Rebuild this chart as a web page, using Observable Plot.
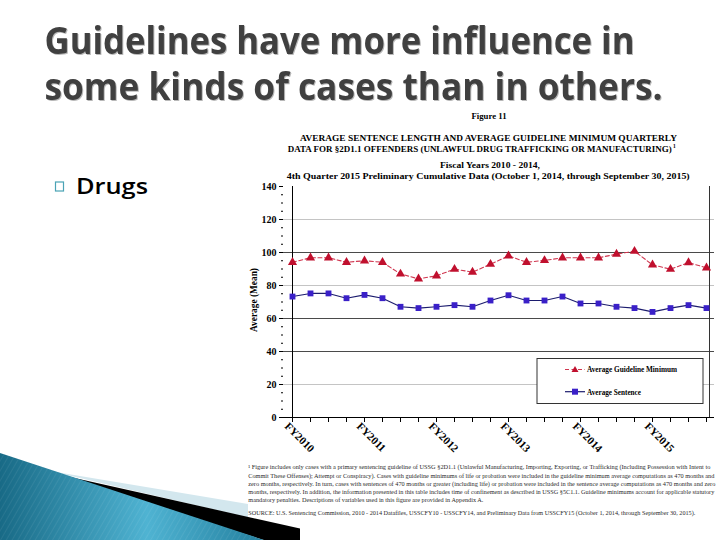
<!DOCTYPE html>
<html><head><meta charset="utf-8">
<script src="https://cdn.jsdelivr.net/npm/d3@7"></script>
<script src="https://cdn.jsdelivr.net/npm/@observablehq/plot@0.6"></script>
<style>
html,body{margin:0;padding:0;background:#fff;}
#page{position:relative;width:720px;height:540px;overflow:hidden;background:#fff;}
#chart{position:absolute;left:240px;top:175px;width:480px;height:285px;}
#overlay{position:absolute;left:0;top:0;}
.serifb{font-family:"Liberation Serif","Times New Roman",serif;font-weight:bold;fill:#000;}
.foot{font-family:"Liberation Serif","Times New Roman",serif;font-size:6px;fill:#2a2a2a;}
.ttl{font-family:"Open Sans","Noto Sans",sans-serif;font-weight:700;font-size:37px;fill:#404040;filter:drop-shadow(1.5px 1.5px 0.6px rgba(0,0,0,0.28));}
</style></head><body>
<div id="page">
<div id="chart"></div>
<svg id="overlay" width="720" height="540" xmlns="http://www.w3.org/2000/svg">
  <defs>
    <linearGradient id="teal" x1="0" y1="0" x2="1" y2="0">
      <stop offset="0" stop-color="#186a86"/>
      <stop offset="0.55" stop-color="#4fb3d2"/>
      <stop offset="1" stop-color="#237f9e"/>
    </linearGradient>
    <pattern id="stripes" width="5" height="5" patternUnits="userSpaceOnUse" patternTransform="rotate(30)">
      <line x1="0" y1="0" x2="0" y2="5" stroke="#ffffff" stroke-opacity="0.13" stroke-width="1"/>
    </pattern>
  </defs>
  <!-- slide title -->
  <g class="ttl">
    <text x="44.5" y="53.5" textLength="590" lengthAdjust="spacingAndGlyphs">Guidelines have more influence in</text>
    <text x="44.5" y="100" textLength="618" lengthAdjust="spacingAndGlyphs">some kinds of cases than in others.</text>
  </g>
  <!-- bullet -->
  <rect x="55.5" y="182" width="8" height="9" fill="none" stroke="#4aa3b5" stroke-width="1.2"/>
  <text x="76" y="193.5" textLength="72" lengthAdjust="spacingAndGlyphs" style="font-family:'Open Sans','Noto Sans',sans-serif;font-size:22px;font-weight:600;fill:#000">Drugs</text>
  <!-- figure headings -->
  <text class="serifb" x="471.5" y="119" font-size="9" textLength="35" lengthAdjust="spacingAndGlyphs">Figure 11</text>
  <text class="serifb" x="300" y="140.5" font-size="8.6" textLength="377" lengthAdjust="spacingAndGlyphs">AVERAGE SENTENCE LENGTH AND AVERAGE GUIDELINE MINIMUM QUARTERLY</text>
  <text class="serifb" x="287.7" y="152" font-size="8.6" textLength="384" lengthAdjust="spacingAndGlyphs">DATA FOR §2D1.1 OFFENDERS (UNLAWFUL DRUG TRAFFICKING OR MANUFACTURING)</text>
  <text class="serifb" x="673" y="148" font-size="5.5">1</text>
  <text class="serifb" x="440" y="168" font-size="8.6" textLength="100" lengthAdjust="spacingAndGlyphs">Fiscal Years 2010 - 2014,</text>
  <text class="serifb" x="286.7" y="178.5" font-size="8.6" textLength="403" lengthAdjust="spacingAndGlyphs">4th Quarter 2015 Preliminary Cumulative Data (October 1, 2014, through September 30, 2015)</text>
  <!-- y axis label -->
  <text class="serifb" transform="translate(257,300) rotate(-90)" text-anchor="middle" font-size="9.5" textLength="64" lengthAdjust="spacingAndGlyphs">Average (Mean)</text>
  <!-- legend -->
  <g id="legend">
    <rect x="537" y="358.5" width="166" height="45" fill="#fff" stroke="#333" stroke-width="1"/>
    <line x1="565" y1="369.5" x2="585" y2="369.5" stroke="#d0364f" stroke-width="1.2" stroke-dasharray="4,2.5"/>
    <path d="M575,366 L578.5,372 L571.5,372 Z" fill="#c0102e"/>
    <text class="serifb" x="587" y="372" font-size="7.5" textLength="90" lengthAdjust="spacingAndGlyphs">Average Guideline Minimum</text>
    <line x1="565" y1="391.7" x2="585" y2="391.7" stroke="#1c1c6e" stroke-width="1.2"/>
    <rect x="572" y="388.7" width="6" height="6" fill="#3a20c8"/>
    <text class="serifb" x="587" y="394.5" font-size="7.5" textLength="54" lengthAdjust="spacingAndGlyphs">Average Sentence</text>
  </g>
  <!-- footnotes -->
  <text class="foot" x="248.3" y="469" textLength="462" lengthAdjust="spacingAndGlyphs">¹ Figure includes only cases with a primary sentencing guideline of USSG §2D1.1 (Unlawful Manufacturing, Importing, Exporting, or Trafficking (Including Possession with Intent to</text>
  <text class="foot" x="248.3" y="477.5" textLength="466" lengthAdjust="spacingAndGlyphs">Commit These Offenses); Attempt or Conspiracy). Cases with guideline minimums of life or probation were included in the guideline minimum average computations as 470 months and</text>
  <text class="foot" x="248.3" y="486" textLength="467" lengthAdjust="spacingAndGlyphs">zero months, respectively. In turn, cases with sentences of 470 months or greater (including life) or probation were included in the sentence average computations as 470 months and zero</text>
  <text class="foot" x="248.3" y="494" textLength="466" lengthAdjust="spacingAndGlyphs">months, respectively. In addition, the information presented in this table includes time of confinement as described in USSG §5C1.1. Guideline minimums account for applicable statutory</text>
  <text class="foot" x="248.3" y="502" textLength="235" lengthAdjust="spacingAndGlyphs">mandatory penalties. Descriptions of variables used in this figure are provided in Appendix A.</text>
  <text class="foot" x="248.3" y="515" textLength="447" lengthAdjust="spacingAndGlyphs">SOURCE: U.S. Sentencing Commission, 2010 - 2014 Datafiles, USSCFY10 - USSCFY14, and Preliminary Data from USSCFY15 (October 1, 2014, through September 30, 2015).</text>
  <!-- decorative swoosh -->
  <polygon points="50,471 248,504 248,517.5" fill="#d3e7ee"/>
  <polygon points="30,468 300,528.5 300,541 267,541" fill="#000"/>
  <polygon points="0,453 267,541 0,541" fill="url(#teal)"/>
  <polygon points="0,453 267,541 0,541" fill="url(#stripes)"/>
</svg>
</div>
<script>
// ---- data ----
const quarters = [
  "FY2010 Q1","FY2010 Q2","FY2010 Q3","FY2010 Q4",
  "FY2011 Q1","FY2011 Q2","FY2011 Q3","FY2011 Q4",
  "FY2012 Q1","FY2012 Q2","FY2012 Q3","FY2012 Q4",
  "FY2013 Q1","FY2013 Q2","FY2013 Q3","FY2013 Q4",
  "FY2014 Q1","FY2014 Q2","FY2014 Q3","FY2014 Q4",
  "FY2015 Q1","FY2015 Q2","FY2015 Q3","FY2015 Q4"
];
const fiscalYearTicks = ["FY2010 Q1","FY2011 Q1","FY2012 Q1","FY2013 Q1","FY2014 Q1","FY2015 Q1"];
const fiscalYearLabels = ["FY2010","FY2011","FY2012","FY2013","FY2014","FY2015"];
const guidelineMinimum = [94.1,96.8,96.8,94.1,95.0,94.1,87.0,84.0,85.9,89.9,88.1,92.9,
                          98.0,94.1,95.2,96.8,96.8,96.8,99.0,100.8,92.5,89.9,93.9,90.7];
const averageSentence  = [73.3,75.2,75.2,72.3,74.3,72.3,67.1,66.3,67.1,68.1,67.1,70.9,
                          74.1,70.9,70.9,73.3,69.1,69.1,67.1,66.3,64.0,66.3,68.1,66.3];
const yTicks = [0,20,40,60,80,100,120,140];
const darkGrid = [40,60,100];
const lightGrid = [20,80,120];

const gmRows = quarters.map((q,i)=>({q, v: guidelineMinimum[i]}));
const asRows = quarters.map((q,i)=>({q, v: averageSentence[i]}));
const fyLabel = new Map(fiscalYearTicks.map((t,i)=>[t, fiscalYearLabels[i]]));

const chart = Plot.plot({
  width: 480, height: 285,
  marginLeft: 43, marginRight: 6, marginTop: 11, marginBottom: 43,
  style: {fontFamily: "'Liberation Serif','Times New Roman',serif", fontSize: "10px", fontWeight: "bold", color: "#000", background: "transparent", overflow: "visible"},
  x: {type: "point", domain: quarters, padding: 0},
  y: {domain: [0, 140]},
  marks: [
    Plot.ruleY(lightGrid, {stroke: "#c4c4c4", strokeWidth: 1}),
    Plot.ruleY(darkGrid, {stroke: "#4a4a4a", strokeWidth: 1}),
    Plot.ruleX(quarters.slice(-1), {stroke: "#333", strokeWidth: 1, dx: 3}),
    Plot.ruleX(quarters.slice(0, 1), {stroke: "#000", strokeWidth: 1}),
    Plot.ruleY([0], {stroke: "#000", strokeWidth: 1}),
    Plot.axisY({ticks: yTicks, tickSize: 4, tickPadding: 3, label: null, fontSize: 10}),
    Plot.axisY({interval: 5, tickSize: 2, tickFormat: () => "", label: null}),
    Plot.axisX({ticks: quarters, tickSize: 5, tickFormat: () => "", label: null}),
    Plot.axisX({ticks: fiscalYearTicks, tickSize: 0, tickRotate: 45, tickPadding: 7, dx: -6,
                tickFormat: d => fyLabel.get(d), label: null, fontSize: 11}),
    Plot.line(gmRows, {x: "q", y: "v", stroke: "#d0364f", strokeWidth: 1.1, strokeDasharray: "4,2.5"}),
    Plot.line(asRows, {x: "q", y: "v", stroke: "#1c1c6e", strokeWidth: 1.1}),
    Plot.dot(gmRows, {x: "q", y: "v", symbol: "triangle", fill: "#c0102e", r: 3.4}),
    Plot.dot(asRows, {x: "q", y: "v", symbol: "square", fill: "#3a20c8", r: 3.3})
  ]
});
document.getElementById("chart").appendChild(chart);
</script>
</body></html>
